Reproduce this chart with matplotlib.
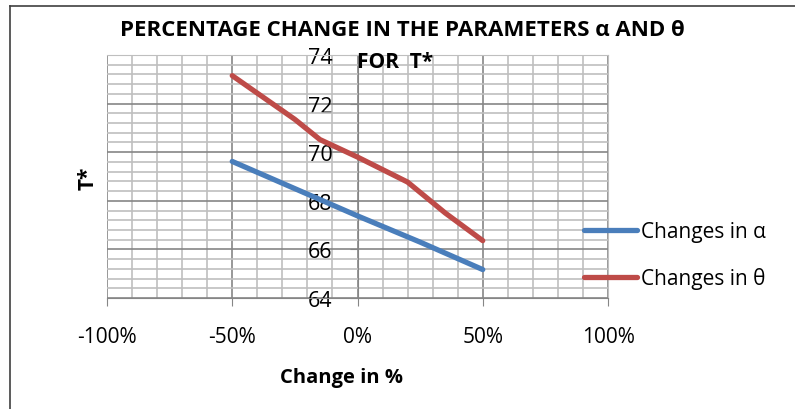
import numpy as np
import matplotlib
matplotlib.use("Agg")
import matplotlib.pyplot as plt
from matplotlib.ticker import MultipleLocator, FuncFormatter
from matplotlib.lines import Line2D

plt.rcParams['font.family'] = ['Open Sans', 'DejaVu Sans']

# data
alpha_x = [-50, -25, 0, 25, 50]
alpha_T = [69.62, 68.5, 67.38, 66.3, 65.17]
theta_x = [-50, -25, -15, 0, 20, 35, 50]
theta_T = [73.15, 71.35, 70.52, 69.8, 68.77, 67.5, 66.36]
series_names = ["Changes in α", "Changes in θ"]
x_ticks = [-100, -50, 0, 50, 100]
y_ticks = [64, 66, 68, 70, 72, 74]

blue = "#4A7EBB"
red = "#BE4B48"
major_c = "#868686"
minor_c = "#BFBFBF"

fig = plt.figure(figsize=(7.95, 4.1), dpi=100)
ax = fig.add_axes([107/795, 111/410, 501/795, 243/410])

ax.plot(alpha_x, alpha_T, color=blue, lw=3.8, solid_capstyle='round', label=series_names[0], zorder=3)
ax.plot(theta_x, theta_T, color=red, lw=3.8, solid_capstyle='round', label=series_names[1], zorder=3)

ax.set_xlim(-100, 100)
ax.set_ylim(64, 74)
ax.set_xticks(x_ticks)
ax.set_yticks(y_ticks)
ax.xaxis.set_minor_locator(MultipleLocator(10))
ax.yaxis.set_minor_locator(MultipleLocator(0.4))
ax.xaxis.set_major_formatter(FuncFormatter(lambda v, p: f"{int(v)}%"))

ax.grid(which='minor', color=minor_c, lw=1.2, zorder=0)
ax.grid(which='major', color=major_c, lw=1.2, zorder=1)
ax.set_axisbelow(True)

# y axis crosses at 0
ax.spines['left'].set_position(('data', 0))
ax.spines['left'].set_color(major_c)
for s in ['top', 'right']:
    ax.spines[s].set_color(minor_c)
ax.spines['bottom'].set_color(major_c)

ax.tick_params(which='minor', length=0)
ax.tick_params(axis='x', which='major', direction='out', length=6, color=major_c,
               labelsize=15, pad=14)
ax.tick_params(axis='y', which='major', direction='out', length=6, color=major_c,
               labelsize=15.5, pad=12)

fig.text(402/795, 1 - 30/410, "PERCENTAGE CHANGE IN THE PARAMETERS α AND θ",
         ha='center', va='center', fontsize=16, fontweight='bold')
fig.text(395/795, 1 - 63/410, "FOR  T*", ha='center', va='center',
         fontsize=15, fontweight='bold')
fig.text(341/795, 1 - 378/410, "Change in %", ha='center', va='center',
         fontsize=14.5, fontweight='bold')
fig.text(88/795, 1 - 178/410, "T*", ha='center', va='center', rotation=90,
         fontsize=15, fontweight='bold')

fig.legend(loc='center left', bbox_to_anchor=(574/795, 1 - 256/410), frameon=False,
           fontsize=15, handlelength=2.5, handletextpad=0.2, labelspacing=1.2,
           borderpad=0)

# chart frame (left and top edge)
fig.add_artist(Line2D([10/795, 10/795], [0, 1 - 7/410], color='#404040', lw=1.2))
fig.add_artist(Line2D([10/795, 1], [1 - 7/410, 1 - 7/410], color='#404040', lw=1.2))

fig.savefig("out.png", dpi=100)
